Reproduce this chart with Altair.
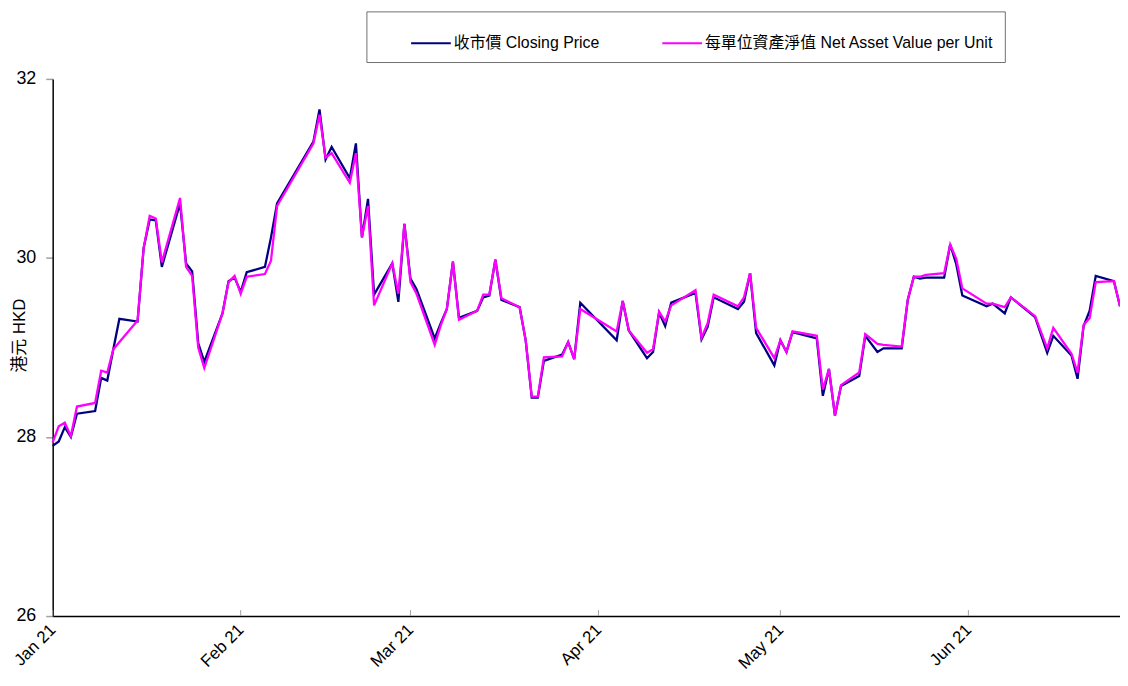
import altair as alt
import pandas as pd

dates = [
    "2021-01-04", "2021-01-05", "2021-01-06", "2021-01-07", "2021-01-08",
    "2021-01-11", "2021-01-12", "2021-01-13", "2021-01-14", "2021-01-15",
    "2021-01-18", "2021-01-19", "2021-01-20", "2021-01-21", "2021-01-22",
    "2021-01-25", "2021-01-26", "2021-01-27", "2021-01-28", "2021-01-29",
    "2021-02-01", "2021-02-02", "2021-02-03", "2021-02-04", "2021-02-05",
    "2021-02-08", "2021-02-09", "2021-02-10",
    "2021-02-16", "2021-02-17", "2021-02-18", "2021-02-19",
    "2021-02-22", "2021-02-23", "2021-02-24", "2021-02-25", "2021-02-26",
    "2021-03-01", "2021-03-02", "2021-03-03", "2021-03-04", "2021-03-05",
    "2021-03-08", "2021-03-09", "2021-03-10", "2021-03-11", "2021-03-12",
    "2021-03-15", "2021-03-16", "2021-03-17", "2021-03-18", "2021-03-19",
    "2021-03-22", "2021-03-23", "2021-03-24", "2021-03-25", "2021-03-26",
    "2021-03-29", "2021-03-30", "2021-03-31", "2021-04-01",
    "2021-04-07", "2021-04-08", "2021-04-09",
    "2021-04-12", "2021-04-13", "2021-04-14", "2021-04-15", "2021-04-16",
    "2021-04-20", "2021-04-21", "2021-04-22", "2021-04-23",
    "2021-04-27", "2021-04-28", "2021-04-29", "2021-04-30",
    "2021-05-03", "2021-05-04", "2021-05-05", "2021-05-06",
    "2021-05-10", "2021-05-11", "2021-05-12", "2021-05-13", "2021-05-14",
    "2021-05-17", "2021-05-18", "2021-05-20", "2021-05-21",
    "2021-05-24", "2021-05-25", "2021-05-26", "2021-05-27", "2021-05-28",
    "2021-05-31", "2021-06-01", "2021-06-02", "2021-06-03",
    "2021-06-07", "2021-06-08", "2021-06-10", "2021-06-11",
    "2021-06-15", "2021-06-17", "2021-06-18",
    "2021-06-21", "2021-06-22", "2021-06-23", "2021-06-24", "2021-06-25",
    "2021-06-28", "2021-06-29",
]

closing_price = [
    27.90, 27.95, 28.11, 28.00, 28.26,
    28.29, 28.66, 28.63, 28.98, 29.32,
    29.29, 30.11, 30.43, 30.42, 29.90,
    30.61, 29.94, 29.85, 29.05, 28.84,
    29.38, 29.74, 29.78, 29.62, 29.84,
    29.90, 30.23, 30.61,
    31.30, 31.66, 31.10, 31.24,
    30.89, 31.28, 30.23, 30.66, 29.59,
    29.94, 29.51, 30.38, 29.77, 29.65,
    29.10, 29.27, 29.43, 29.96, 29.33,
    29.41, 29.56, 29.58, 29.98, 29.53,
    29.45, 29.08, 28.44, 28.44, 28.85,
    28.92, 29.06, 28.87, 29.50,
    29.08, 29.52, 29.19,
    28.88, 28.95, 29.39, 29.24, 29.50,
    29.61, 29.09, 29.23, 29.56,
    29.43, 29.51, 29.83, 29.16,
    28.80, 29.08, 28.95, 29.17,
    29.10, 28.46, 28.76, 28.24, 28.57,
    28.68, 29.13, 28.95, 28.99,
    28.99, 29.53, 29.79, 29.77, 29.78,
    29.78, 30.15, 29.93, 29.58,
    29.46, 29.49, 29.38, 29.56,
    29.34, 28.94, 29.13,
    28.91, 28.65, 29.24, 29.41, 29.80,
    29.74, 29.46,
]

nav_per_unit = [
    27.94, 28.12, 28.16, 28.01, 28.34,
    28.38, 28.74, 28.72, 28.98, None,
    29.30, 30.11, 30.47, 30.44, 29.95,
    30.67, 29.90, 29.80, 29.00, 28.77,
    29.38, 29.73, 29.80, 29.60, 29.79,
    29.82, 29.97, 30.58,
    31.28, 31.60, 31.12, 31.17,
    30.84, 31.17, 30.23, 30.58, 29.47,
    29.94, 29.60, 30.38, 29.73, 29.60,
    29.03, 29.25, 29.43, 29.96, 29.31,
    29.41, 29.59, 29.59, 29.98, 29.55,
    29.45, 29.08, 28.45, 28.45, 28.89,
    28.90, 29.06, 28.87, 29.43,
    29.18, 29.52, 29.19,
    28.94, 28.98, 29.40, 29.29, 29.47,
    29.64, 29.11, 29.27, 29.59,
    29.46, 29.56, 29.83, 29.22,
    28.88, 29.08, 28.95, 29.18,
    29.13, 28.53, 28.76, 28.24, 28.58,
    28.72, 29.15, 29.04, 29.03,
    29.01, 29.53, 29.79, 29.79, 29.81,
    29.83, 30.15, 29.99, 29.66,
    29.49, 29.49, 29.45, 29.56,
    29.35, 28.99, 29.22,
    28.93, 28.72, 29.25, 29.33, 29.73,
    29.74, 29.46,
]

series_names = ["收市價 Closing Price", "每單位資產淨值 Net Asset Value per Unit"]
series_colors = ["#000080", "#FF00FF"]
tick_dates = [(2021, 1, 4), (2021, 2, 4), (2021, 3, 4), (2021, 4, 4), (2021, 5, 4), (2021, 6, 4)]
y_ticks = [26, 28, 30, 32]
x_start = (2021, 1, 4)
x_end = (2021, 6, 29)

FONT = "Liberation Sans, Arial, Noto Sans CJK TC"

df_n = pd.DataFrame({"date": dates, "value": closing_price, "series": series_names[0]})
df_m = pd.DataFrame({"date": dates, "value": nav_per_unit, "series": series_names[1]}).dropna()
df_ticks = pd.DataFrame({"date": [f"{y:04d}-{m:02d}-{d:02d}" for y, m, d in tick_dates]})


def dt(t):
    return alt.DateTime(year=t[0], month=t[1], date=t[2], utc=True)


x_scale = alt.Scale(type="utc", domain=[dt(x_start), dt(x_end)])
x_axis = alt.Axis(
    values=[dt(t) for t in tick_dates], format="%b %y", labelAngle=315,
    labelAlign="right", labelBaseline="middle", labelPadding=11, ticks=False,
    grid=False, domainColor="#000000", domainWidth=1.5, labelFontSize=17,
    labelFont=FONT, labelColor="#000000", title=None, labelOverlap=False,
)
x_enc = alt.X("date:T", scale=x_scale, axis=x_axis)

y_enc = alt.Y(
    "value:Q",
    scale=alt.Scale(domain=[26, 32], nice=False, zero=False),
    axis=alt.Axis(
        values=y_ticks, grid=False, tickColor="#a0a0a0", tickSize=7, tickWidth=1.5,
        domainColor="#000000", domainWidth=1.5, labelFontSize=18, labelFont=FONT,
        labelColor="#000000", labelPadding=10, title="港元 HKD", titleFont=FONT,
        titleFontSize=17, titleFontWeight="normal", titleColor="#000000",
        titleAngle=270, titleX=-24, titleY=258, titleAlign="center", titleBaseline="bottom",
    ),
)

color_enc = alt.Color(
    "series:N",
    scale=alt.Scale(domain=series_names, range=series_colors),
    legend=alt.Legend(
        orient="none", legendX=316, legendY=-68, direction="horizontal", columns=2,
        symbolType="stroke", symbolSize=1600, symbolStrokeWidth=2, labelFontSize=16,
        labelFont=FONT, labelColor="#000000", labelLimit=400, labelOffset=2,
        strokeColor="#707070", padding=11, columnPadding=29, title=None,
        symbolOffset=33,
    ),
)

line_n = alt.Chart(df_n).mark_line(strokeWidth=2.3).encode(x=x_enc, y=y_enc, color=color_enc)
line_m = alt.Chart(df_m).mark_line(strokeWidth=2.3).encode(x=x_enc, y=y_enc, color=color_enc)
ticks = alt.Chart(df_ticks).mark_rule(color="#a0a0a0", strokeWidth=1).encode(
    x=alt.X("date:T", scale=x_scale), y=alt.value(535), y2=alt.value(541)
)

chart = alt.layer(ticks, line_n, line_m).properties(
    width=1075, height=541,
    padding={"left": 45, "top": 69, "right": 0, "bottom": 60},
    autosize=alt.AutoSizeParams(type="none"),
).configure_view(stroke=None)

chart.save("out.html", embed_options={"renderer": "svg", "actions": False})
